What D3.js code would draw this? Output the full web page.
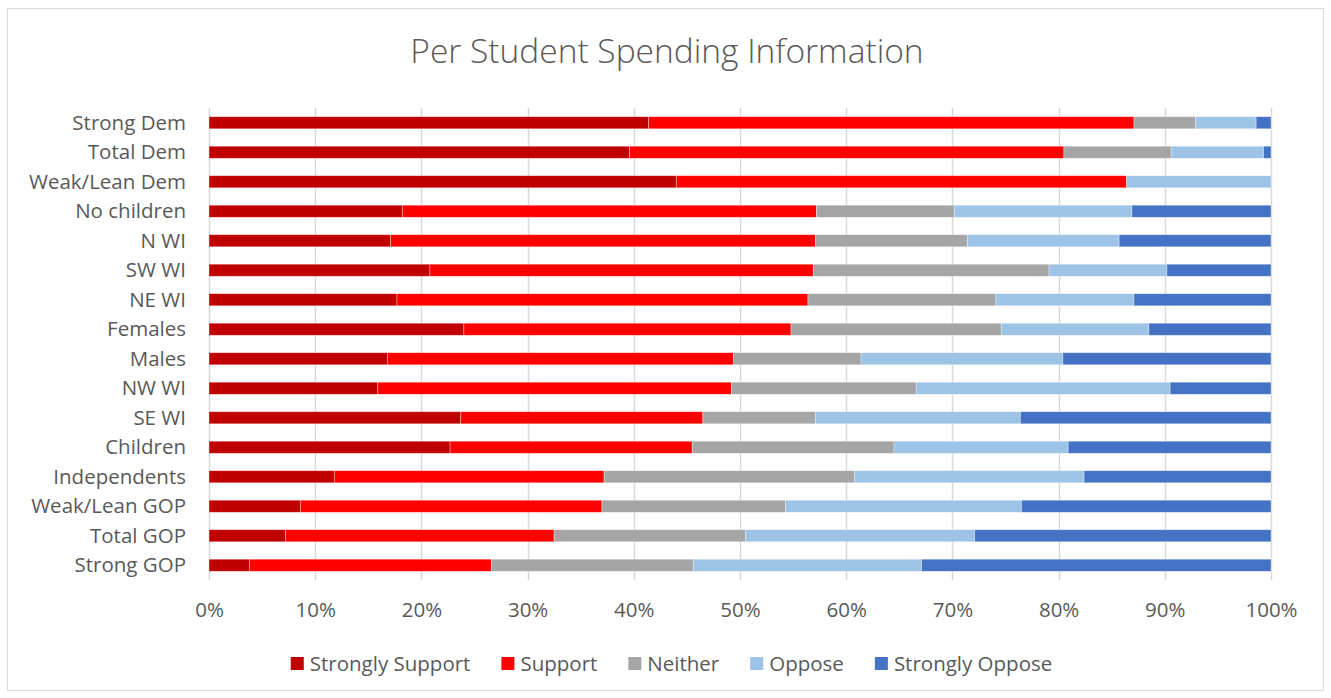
<!DOCTYPE html>
<html>
<head>
<meta charset="utf-8">
<script src="https://cdn.jsdelivr.net/npm/d3@7"></script>
<style>
  html, body { margin: 0; padding: 0; background: #fff; }
  svg { display: block; font-family: "Open Sans", "Noto Sans", sans-serif; }
</style>
</head>
<body>
<svg id="chart" width="1331" height="698"></svg>
<script>
// Survey groups, top to bottom
const categories = [
  "Strong Dem", "Total Dem", "Weak/Lean Dem", "No children", "N WI", "SW WI",
  "NE WI", "Females", "Males", "NW WI", "SE WI", "Children", "Independents",
  "Weak/Lean GOP", "Total GOP", "Strong GOP"
];

// Response options (stack order, left to right)
const seriesNames = ["Strongly Support", "Support", "Neither", "Oppose", "Strongly Oppose"];

// Share of responses (%) per group, one array per response option
const stronglySupport = [41.4, 39.6, 44.0, 18.2, 17.1, 20.8, 17.7, 24.0, 16.8, 15.9, 23.7, 22.7, 11.8, 8.6, 7.2, 3.8];
const support         = [45.7, 40.9, 42.4, 39.0, 40.0, 36.1, 38.7, 30.8, 32.6, 33.3, 22.8, 22.8, 25.4, 28.4, 25.3, 22.8];
const neither         = [ 5.8, 10.1,  0.0, 13.0, 14.3, 22.2, 17.7, 19.8, 12.0, 17.4, 10.6, 19.0, 23.6, 17.3, 18.0, 19.0];
const oppose          = [ 5.7,  8.7, 13.6, 16.7, 14.3, 11.1, 13.0, 13.9, 19.0, 23.9, 19.3, 16.4, 21.6, 22.2, 21.6, 21.5];
const stronglyOppose  = [ 1.4,  0.7,  0.0, 13.1, 14.3,  9.8, 12.9, 11.5, 19.6,  9.5, 23.6, 19.1, 17.6, 23.5, 27.9, 32.9];

const tickValues = [0, 0.1, 0.2, 0.3, 0.4, 0.5, 0.6, 0.7, 0.8, 0.9, 1.0];
const colors = ["#c00000", "#ff0000", "#a5a5a5", "#9dc3e6", "#4472c4"];
const title = "Per Student Spending Information";

const seriesValues = [stronglySupport, support, neither, oppose, stronglyOppose];
const rows = categories.map((c, i) => {
  const r = { category: c };
  seriesNames.forEach((s, k) => { r[s] = seriesValues[k][i]; });
  return r;
});
// normalise each row to 100%
const stack = d3.stack().keys(seriesNames).offset(d3.stackOffsetExpand);
const stacked = stack(rows);

const svg = d3.select("#chart");
const textColor = "#595959";
const labelSize = 20.5;

// chart frame
svg.append("rect")
  .attr("x", 7.5).attr("y", 8.5)
  .attr("width", 1316).attr("height", 682)
  .attr("fill", "#fff").attr("stroke", "#d9d9d9").attr("stroke-width", 1);

const plot = { left: 209, right: 1271, top: 108, bottom: 580 };

const x = d3.scaleLinear().domain([0, 1]).range([plot.left, plot.right]);
const y = d3.scaleBand().domain(categories).range([plot.top, plot.bottom]).paddingInner(0.59).paddingOuter(0.295);

// title
svg.append("text")
  .attr("x", 667).attr("y", 63)
  .attr("text-anchor", "middle")
  .attr("fill", textColor)
  .attr("font-size", 33.5)
  .attr("font-weight", 300)
  .text(title);

// vertical gridlines
svg.append("g")
  .selectAll("line")
  .data(tickValues)
  .join("line")
  .attr("x1", d => Math.round(x(d)) + 0.5).attr("x2", d => Math.round(x(d)) + 0.5)
  .attr("y1", plot.top).attr("y2", plot.bottom)
  .attr("stroke", "#d9d9d9").attr("stroke-width", 1.5);

// x axis labels
const xAxis = d3.axisBottom(x).tickValues(tickValues).tickFormat(d3.format(".0%")).tickSize(0).tickPadding(0);
const gx = svg.append("g").attr("transform", `translate(0, ${plot.bottom + 37})`).call(xAxis);
gx.select(".domain").remove();
gx.selectAll("text").attr("fill", textColor).attr("font-size", labelSize).attr("font-family", "Open Sans, sans-serif").attr("dy", 0);

// category labels
const yAxis = d3.axisLeft(y).tickSize(0).tickPadding(0);
const gy = svg.append("g").attr("transform", `translate(186, 0)`).call(yAxis);
gy.select(".domain").remove();
gy.selectAll("text").attr("fill", textColor).attr("font-size", labelSize).attr("font-family", "Open Sans, sans-serif").attr("dy", "0.35em");

// stacked bars
svg.append("g")
  .selectAll("g")
  .data(stacked)
  .join("g")
  .attr("fill", (d, i) => colors[i])
  .selectAll("rect")
  .data(d => d)
  .join("rect")
  .attr("x", d => x(d[0]))
  .attr("width", d => Math.max(0, x(d[1]) - x(d[0])))
  .attr("y", d => y(d.data.category))
  .attr("height", y.bandwidth())
  .attr("stroke", "#ffffff")
  .attr("stroke-opacity", 0.45)
  .attr("stroke-width", 0.75);

// legend
const legend = svg.append("g").attr("transform", "translate(0, 664)");
const items = legend.selectAll("g").data(seriesNames).join("g");
items.append("rect")
  .attr("width", 13).attr("height", 13).attr("y", -7)
  .attr("fill", (d, i) => colors[i]);
items.append("text")
  .attr("x", 19).attr("dy", "0.35em")
  .attr("fill", textColor).attr("font-size", labelSize)
  .text(d => d);
let cursor = 0;
const positions = [];
items.each(function () {
  const w = this.querySelector("text").getComputedTextLength();
  positions.push(cursor);
  cursor += 19 + w + 31;
});
const total = cursor - 31;
const start = 671.5 - total / 2;
items.attr("transform", (d, i) => `translate(${start + positions[i]}, 0)`);
</script>
</body>
</html>
